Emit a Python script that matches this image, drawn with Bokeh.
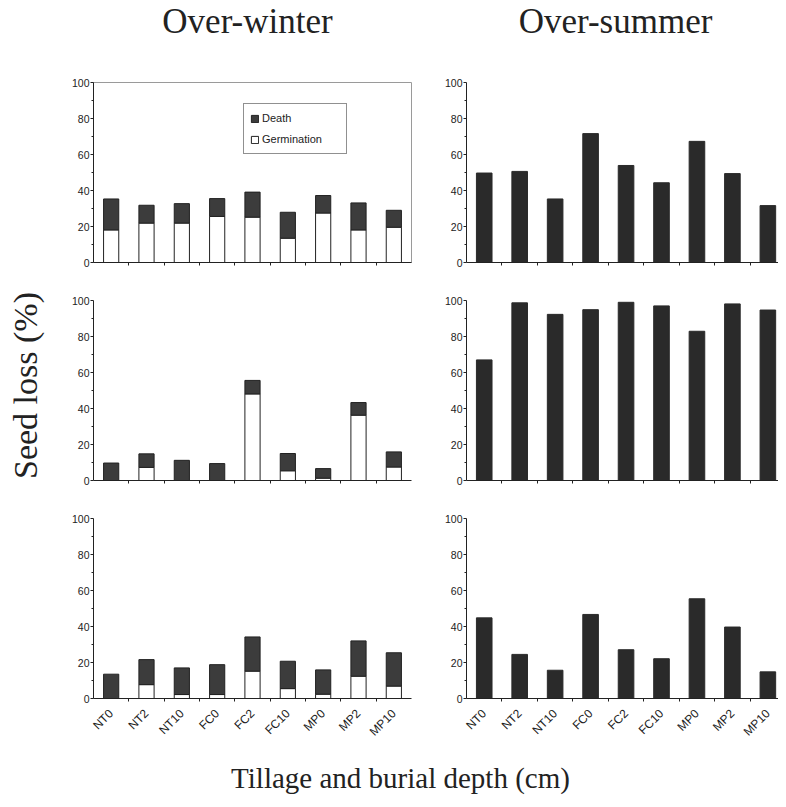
import math
from bokeh.plotting import figure
from bokeh.models import Range1d, FixedTicker, Label, Legend, LegendItem, ColumnDataSource
from bokeh.layouts import row, column
from bokeh.embed import file_html
from bokeh.resources import INLINE

# ---------------- data ----------------
categories = ["NT0", "NT2", "NT10", "FC0", "FC2", "FC10", "MP0", "MP2", "MP10"]
y_ticks = [0, 20, 40, 60, 80, 100]
y_minor = [10, 30, 50, 70, 90]

# Over-winter (stacked: germination at bottom, death on top)
winter1_germ = [18.1, 21.9, 21.9, 25.6, 25.2, 13.5, 27.5, 18.1, 19.6]
winter1_death = [17.2, 9.9, 10.8, 9.9, 13.9, 14.4, 9.7, 15.0, 9.4]
winter2_germ = [0.0, 7.3, 0.0, 0.0, 48.1, 5.4, 1.3, 36.3, 7.5]
winter2_death = [9.7, 7.5, 11.2, 9.4, 7.5, 9.6, 5.3, 7.0, 8.4]
winter3_germ = [0.0, 7.7, 2.2, 2.2, 15.2, 5.5, 2.4, 12.4, 6.9]
winter3_death = [13.5, 13.9, 14.8, 16.6, 19.0, 15.2, 13.5, 19.6, 18.5]

# Over-summer (total seed loss)
summer1 = [49.7, 50.6, 35.3, 71.6, 53.9, 44.3, 67.3, 49.4, 31.6]
summer2 = [67.0, 98.7, 92.3, 94.9, 99.0, 97.0, 82.9, 98.1, 94.7]
summer3 = [44.8, 24.5, 15.7, 46.7, 27.1, 22.1, 55.4, 39.7, 14.8]

title_left = "Over-winter"
title_right = "Over-summer"
y_title = "Seed loss (%)"
x_title = "Tillage and burial depth (cm)"
legend_labels = ["Death", "Germination"]

# ---------------- style ----------------
SERIF = "Liberation Serif"
SANS = "Liberation Sans"
DEATH = "#3c3c3c"
SUMMER = "#2a2a2a"
INK = "#222222"

xs = list(range(len(categories)))
x_bounds = [i + 0.5 for i in xs[:-1]]


def panel(width, height, bl, br, bt, bb, x_end, show_labels):
    p = figure(width=width, height=height,
               x_range=Range1d(-0.5, x_end), y_range=Range1d(0, 100),
               output_backend="svg", toolbar_location=None,
               min_border_left=bl, min_border_right=br,
               min_border_top=bt, min_border_bottom=bb)
    p.grid.visible = False
    p.outline_line_color = None
    p.background_fill_color = "white"
    p.border_fill_color = "white"
    # y axis
    p.yaxis.ticker = FixedTicker(ticks=y_ticks, minor_ticks=y_minor)
    p.yaxis.major_tick_out = 3
    p.yaxis.major_tick_in = 0
    p.yaxis.minor_tick_out = 2
    p.yaxis.minor_tick_in = 0
    p.yaxis.major_label_standoff = 1
    p.yaxis.major_label_text_font = SANS
    p.yaxis.major_label_text_font_size = "10.5px"
    p.yaxis.major_label_text_color = INK
    p.yaxis.axis_line_color = INK
    p.yaxis.major_tick_line_color = INK
    p.yaxis.minor_tick_line_color = INK
    # x axis
    p.xaxis.major_tick_out = 0
    p.xaxis.major_tick_in = 0
    p.xaxis.minor_tick_out = 3
    p.xaxis.minor_tick_in = 0
    p.xaxis.axis_line_color = INK
    p.xaxis.minor_tick_line_color = INK
    if show_labels:
        p.xaxis.ticker = FixedTicker(ticks=xs, minor_ticks=x_bounds)
        p.xaxis.major_label_overrides = {i: c for i, c in zip(xs, categories)}
        p.xaxis.major_label_orientation = math.pi / 4
        p.xaxis.major_label_text_font = SANS
        p.xaxis.major_label_text_font_size = "12px"
        p.xaxis.major_label_text_color = INK
        p.xaxis.major_label_standoff = 10
    else:
        p.xaxis.ticker = FixedTicker(ticks=[], minor_ticks=x_bounds)
        p.xaxis.major_label_standoff = 0
    return p


def winter_panel(height, bt, bb, germ, death, show_labels, with_legend=False):
    p = panel(382, height, 45, 19, bt, bb, 8.5, show_labels)
    src = ColumnDataSource(dict(x=xs, germ=germ, death=death))
    rs = p.vbar_stack(["germ", "death"], x="x", width=0.43, source=src,
                      fill_color=["white", DEATH], line_color=INK, line_width=1)
    if with_legend:
        p.outline_line_color = "#9a9a9a"
        leg = Legend(items=[LegendItem(label=legend_labels[0], renderers=[rs[1]]),
                            LegendItem(label=legend_labels[1], renderers=[rs[0]])],
                     location=(150, 108))
        leg.label_text_font = SANS
        leg.label_text_font_size = "11px"
        leg.label_text_color = INK
        leg.glyph_width = 9
        leg.glyph_height = 9
        leg.label_standoff = 3
        leg.label_height = 16
        leg.label_width = 78
        leg.padding = 6
        leg.spacing = 5
        leg.margin = 0
        leg.border_line_color = INK
        leg.border_line_width = 1
        leg.background_fill_color = "white"
        leg.background_fill_alpha = 1.0
        p.add_layout(leg)
    return p


def summer_panel(height, bt, bb, vals, show_labels):
    p = panel(348, height, 36, 0, bt, bb, 8.3, show_labels)
    src = ColumnDataSource(dict(x=xs, top=vals))
    p.vbar(x="x", top="top", width=0.44, source=src,
           fill_color=SUMMER, line_color=SUMMER, line_width=1)
    return p


tl = winter_panel(225, 22, 23, winter1_germ, winter1_death, False, with_legend=True)
tr = summer_panel(225, 22, 23, summer1, False)
ml = winter_panel(215, 15, 20, winter2_germ, winter2_death, False)
mr = summer_panel(215, 15, 20, summer2, False)
bl = winter_panel(250, 18, 52, winter3_germ, winter3_death, True)
br = summer_panel(250, 18, 52, summer3, True)


def text_fig(w, h):
    f = figure(width=w, height=h, x_range=Range1d(0, w), y_range=Range1d(0, h),
               output_backend="svg", toolbar_location=None, min_border=0,
               x_axis_location=None, y_axis_location=None)
    f.grid.visible = False
    f.outline_line_color = None
    return f


header = text_fig(778, 60)
header.add_layout(Label(x=247, y=39, text=title_left, text_align="center",
                        text_baseline="alphabetic", text_font=SERIF,
                        text_font_size="35px", text_color=INK))
header.add_layout(Label(x=615, y=39, text=title_right, text_align="center",
                        text_baseline="alphabetic", text_font=SERIF,
                        text_font_size="35px", text_color=INK))

ylab = text_fig(48, 690)
ylab.add_layout(Label(x=25, y=365, text=y_title, angle=math.pi / 2,
                      text_align="center", text_baseline="alphabetic",
                      text_font=SERIF, text_font_size="34px", text_color=INK))

footer = text_fig(778, 57)
footer.add_layout(Label(x=400, y=30, text=x_title, text_align="center",
                        text_baseline="alphabetic", text_font=SERIF,
                        text_font_size="29px", text_color=INK))

grid = column(row(tl, tr), row(ml, mr), row(bl, br))
layout = column(header, row(ylab, grid), footer)

open("out.html", "w").write(file_html(layout, INLINE))
